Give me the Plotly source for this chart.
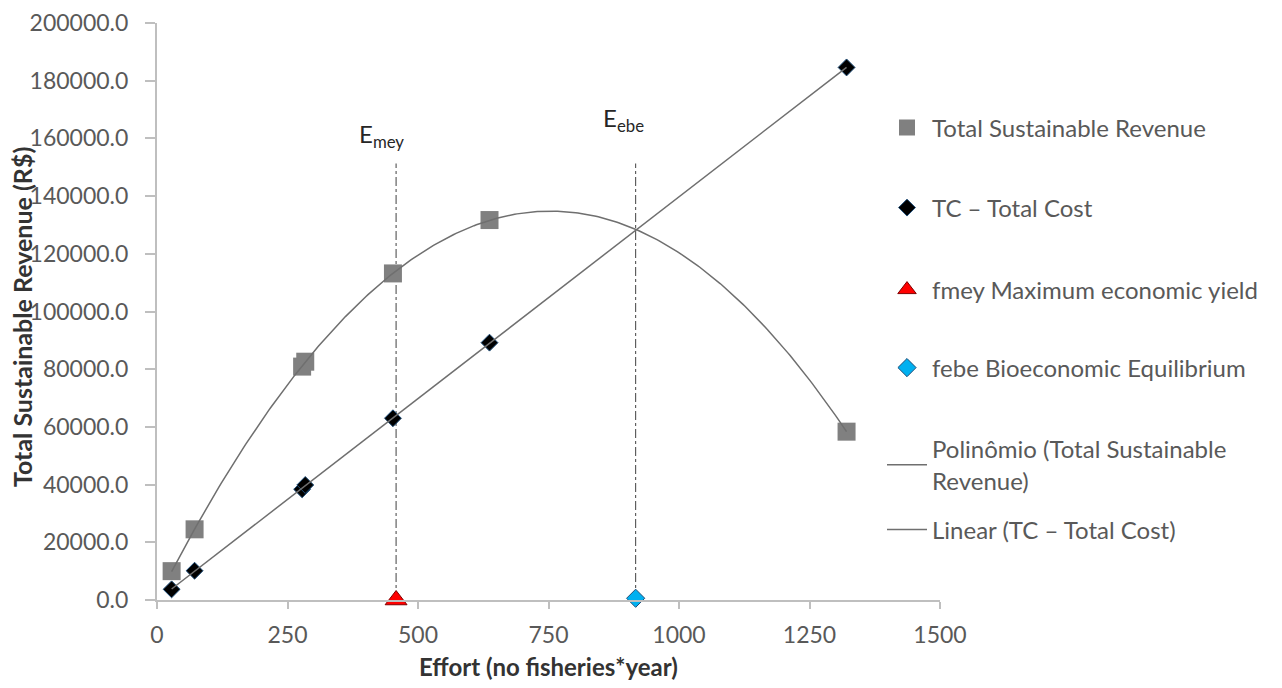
import numpy as np
import plotly.graph_objects as go

# ---- data ----
rev_effort = [28, 72, 278, 284, 452, 637, 1321]
rev_values = [10000, 24500, 80900, 82600, 113200, 131700, 58350]
tc_effort = [28, 72, 278, 284, 452, 637, 1321]
tc_values = [3700, 10150, 38370, 39860, 63000, 89200, 184600]
fmey_effort = [458]
fmey_values = [0]
febe_effort = [917]
febe_values = [600]

x_ticks = [0, 250, 500, 750, 1000, 1250, 1500]
y_ticks = [0, 20000, 40000, 60000, 80000, 100000, 120000, 140000, 160000, 180000, 200000]

names = [
    "Total Sustainable Revenue",
    "TC \u2013 Total Cost",
    "fmey Maximum economic yield",
    "febe Bioeconomic Equilibrium",
    "Polin\u00f4mio (Total Sustainable<br>Revenue)",
    "Linear (TC \u2013 Total Cost)",
]

# trendlines fitted from the data (as the spreadsheet does)
p2 = np.polyfit(rev_effort, rev_values, 2)
p1 = np.polyfit(tc_effort, tc_values, 1)
xs_rev = np.linspace(min(rev_effort), max(rev_effort), 300)
xs_tc = np.array([min(tc_effort), max(tc_effort)])

FONT = "Lato"
TXT = "#595959"
DARK = "#333333"
AX = "#bfbfbf"

# page has an 8px body margin; figure is sized to fit the window
OFF = 8
W, H = 1282 - 2 * OFF, 688 - 2 * OFF
PL, PT, PW, PH = 157, 23, 783, 577  # plot area in page pixels


def cx(px):
    return (px - OFF) / W


def cy(py):
    return 1 - (py - OFF) / H


def pxp(px):
    return (px - PL) / PW


def pyp(py):
    return (PT + PH - py) / PH


fig = go.Figure()
fig.add_trace(go.Scatter(x=rev_effort, y=rev_values, mode="markers", name=names[0],
                         marker=dict(symbol="square", size=18, color="#808080"),
                         legend="legend"))
fig.add_trace(go.Scatter(x=tc_effort, y=tc_values, mode="markers", name=names[1],
                         marker=dict(symbol="diamond", size=13, color="#000000",
                                     line=dict(color="#1f4e79", width=1)),
                         legend="legend2"))
fig.add_trace(go.Scatter(x=fmey_effort, y=fmey_values, mode="markers", name=names[2],
                         marker=dict(symbol="triangle-up", size=19, color="#ff0000",
                                     line=dict(color="#7f0000", width=1)),
                         cliponaxis=False, legend="legend3"))
fig.add_trace(go.Scatter(x=febe_effort, y=febe_values, mode="markers", name=names[3],
                         marker=dict(symbol="diamond", size=14, color="#00b0f0",
                                     line=dict(color="#1f4e79", width=1)),
                         cliponaxis=False, legend="legend4"))
fig.add_trace(go.Scatter(x=xs_rev, y=np.polyval(p2, xs_rev), mode="lines", name=names[4],
                         line=dict(color="#6f6f6f", width=1.5), legend="legend5"))
fig.add_trace(go.Scatter(x=xs_tc, y=np.polyval(p1, xs_tc), mode="lines", name=names[5],
                         line=dict(color="#6f6f6f", width=1.5), legend="legend6"))

# vertical reference lines at fmey and febe
for xv in (fmey_effort[0], febe_effort[0]):
    fig.add_shape(type="line", xref="x", yref="y", x0=xv, x1=xv, y0=0, y1=151300,
                  line=dict(color="#404040", width=1, dash="dashdot"), layer="below")

fig.add_annotation(x=fmey_effort[0] - 27, y=161000, xref="x", yref="y",
                   text="E<sub>mey</sub>", showarrow=False,
                   font=dict(family=FONT, size=24, color="#262626"))
fig.add_annotation(x=febe_effort[0] - 24, y=166500, xref="x", yref="y",
                   text="E<sub>ebe</sub>", showarrow=False,
                   font=dict(family=FONT, size=24, color="#262626"))

# axis titles
fig.add_annotation(x=pxp(22), y=pyp(317), xref="paper", yref="paper",
                   xanchor="center", yanchor="middle",
                   text="<b>Total Sustainable Revenue (R$)</b>", showarrow=False,
                   textangle=-90, font=dict(family=FONT, size=25, color=DARK))
fig.add_annotation(x=pxp(548), y=pyp(666), xref="paper", yref="paper",
                   xanchor="center", yanchor="middle",
                   text="<b>Effort (no fisheries*year)</b>", showarrow=False,
                   font=dict(family=FONT, size=24, color=DARK))

leg_common = dict(xref="container", yref="container", xanchor="left", yanchor="middle",
                  bgcolor="rgba(0,0,0,0)", borderwidth=0,
                  font=dict(family=FONT, size=24, color=TXT), itemwidth=40)
leg_y = [128, 208, 290, 368, 465, 530]
leg_x = 882
layout_legends = {}
for i, yy in enumerate(leg_y):
    key = "legend" if i == 0 else f"legend{i+1}"
    layout_legends[key] = dict(leg_common, x=cx(leg_x), y=cy(yy))

fig.update_layout(
    width=W, height=H,
    paper_bgcolor="white", plot_bgcolor="white",
    margin=dict(l=PL - OFF, r=W - (PL - OFF) - PW, t=PT - OFF, b=H - (PT - OFF) - PH,
                autoexpand=False),
    showlegend=True,
    font=dict(family=FONT, color=TXT),
    xaxis=dict(range=[0, 1500], tickvals=x_ticks, showgrid=False, zeroline=False,
               showline=True, linecolor=AX, linewidth=2, ticks="outside", ticklen=7,
               tickcolor=AX, tickwidth=2, tickfont=dict(family=FONT, size=23, color=TXT),
               ticklabelstandoff=6),
    yaxis=dict(range=[0, 200000], tickvals=y_ticks, tickformat=".1f", showgrid=False,
               zeroline=False, showline=True, linecolor=AX, linewidth=2, ticks="outside",
               ticklen=10, tickcolor=AX, tickwidth=2,
               tickfont=dict(family=FONT, size=23, color=TXT), ticklabelstandoff=12),
    **layout_legends,
)

fig.write_html("out.html")
